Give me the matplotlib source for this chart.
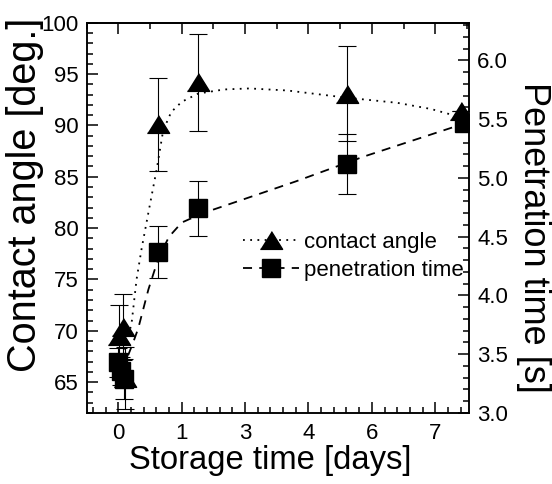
import matplotlib
matplotlib.use("Agg")
import matplotlib.pyplot as plt
from matplotlib.ticker import MultipleLocator, FixedLocator, FixedFormatter
from matplotlib.lines import Line2D
import numpy as np

plt.rcParams['font.family'] = ['Liberation Sans', 'DejaVu Sans']

# ---- data ----
ca_days = [0.01, 0.11, 0.16, 0.94, 1.89, 5.41, 8.10]
ca_values = [69.5, 70.4, 65.4, 90.1, 94.2, 93.1, 91.4]
ca_errors = [3.0, 3.2, 3.0, 4.5, 4.7, 4.6, 0.0]

pt_days = [0.00, 0.06, 0.14, 0.94, 1.89, 5.41, 8.18]
pt_values = [3.43, 3.36, 3.29, 4.37, 4.74, 5.12, 5.47]
pt_errors = [0.12, 0.12, 0.17, 0.22, 0.235, 0.255, 0.0]

# fitted guide curves
ca_fit_days = [0.10, 0.23, 0.32, 0.43, 0.55, 0.71, 0.91, 1.06, 1.25, 1.5, 1.89,
               2.5, 3.1, 4.0, 4.8, 5.4, 6.6, 7.4, 8.1]
ca_fit_values = [67.5, 69.2, 71.0, 75.0, 78.0, 81.5, 85.8, 89.5, 91.3, 92.3, 93.1,
                 93.5, 93.6, 93.4, 93.0, 92.7, 92.2, 91.6, 90.8]
pt_fit_days = [0.10, 0.23, 0.35, 0.47, 0.71, 0.95, 1.2, 1.5, 2.0, 2.9, 4.2, 5.8, 8.17]
pt_fit_values = [3.36, 3.49, 3.60, 3.72, 4.05, 4.32, 4.50, 4.62, 4.70, 4.81, 4.97,
                 5.18, 5.46]

x_ticks = [0, 1.5, 3, 4.5, 6, 7.5]
x_tick_labels = ['0', '1', '3', '4', '6', '7']
left_ticks = [65, 70, 75, 80, 85, 90, 95, 100]
right_ticks = [3.0, 3.5, 4.0, 4.5, 5.0, 5.5, 6.0]

# ---- figure ----
W, H = 552, 484
L, R, T, B = 86.7, 469.0, 22.7, 413.0
fig = plt.figure(figsize=(W / 100, H / 100), dpi=100)
ax = fig.add_axes([L / W, 1 - B / H, (R - L) / W, (B - T) / H])
ax2 = ax.twinx()


def ax_x(px):
    return (px - L) / (R - L)


def ax_y(py):
    return (B - py) / (B - T)


tri = [(-1.25, -1.0), (1.25, -1.0), (0.0, 1.0)]
lw_axis = 1.1
dot_style = (0, (1, 3))
dash_style = (0, (5, 4))

# contact angle
ax.plot(ca_fit_days, ca_fit_values, linestyle=dot_style, color='black', lw=1.3)
ax.errorbar(ca_days, ca_values, yerr=ca_errors, fmt='none', ecolor='black',
            elinewidth=0.8, capsize=6.5, capthick=0.8)
ax.plot(ca_days, ca_values, linestyle='none', marker=tri, ms=16, color='black')

# penetration time
ax2.plot(pt_fit_days, pt_fit_values, linestyle=dash_style, color='black', lw=1.3)
ax2.errorbar(pt_days, pt_values, yerr=pt_errors, fmt='none', ecolor='black',
             elinewidth=0.8, capsize=6.5, capthick=0.8)
ax2.plot(pt_days, pt_values, linestyle='none', marker='s', ms=13, color='black')

ax.set_xlim(-0.75, 8.3)
ax.set_ylim(62, 100)
ax2.set_ylim(3.0, 6.32)

ax.xaxis.set_major_locator(FixedLocator(x_ticks))
ax.xaxis.set_major_formatter(FixedFormatter(x_tick_labels))
ax.xaxis.set_minor_locator(MultipleLocator(0.3))
ax.yaxis.set_major_locator(FixedLocator(left_ticks))
ax.yaxis.set_minor_locator(MultipleLocator(1))
ax2.yaxis.set_major_locator(FixedLocator(right_ticks))
ax2.yaxis.set_major_formatter(plt.FuncFormatter(lambda v, p: f"{v:.1f}"))
ax2.yaxis.set_minor_locator(MultipleLocator(0.1))

ax.tick_params(axis='both', which='both', direction='in', width=lw_axis,
               labelsize=16, top=False, right=False)
ax.tick_params(axis='both', which='major', length=8)
ax.tick_params(axis='both', which='minor', length=4.5)
ax.tick_params(axis='x', pad=7)
ax.tick_params(axis='y', pad=6)
ax2.tick_params(axis='y', which='both', direction='in', width=lw_axis, labelsize=16, pad=6)
ax2.tick_params(axis='y', which='major', length=8)
ax2.tick_params(axis='y', which='minor', length=4.5)

secx = ax.secondary_xaxis('top')
secx.xaxis.set_major_locator(FixedLocator(x_ticks))
secx.xaxis.set_minor_locator(MultipleLocator(0.75))
secx.tick_params(axis='x', which='both', direction='in', width=lw_axis, labeltop=False)
secx.tick_params(axis='x', which='major', length=8)
secx.tick_params(axis='x', which='minor', length=4.5)

for a in (ax, ax2):
    for s in a.spines.values():
        s.set_linewidth(lw_axis)
secx.spines['top'].set_linewidth(lw_axis)

ax.set_xlabel('Storage time [days]', fontsize=23.6)
ax.xaxis.set_label_coords(ax_x(270), ax_y(461))
ax.xaxis.label.set_verticalalignment('center')

ax.set_ylabel('Contact angle [deg.]', fontsize=28.5)
ax.yaxis.set_label_coords(ax_x(25), ax_y(195))
ax.yaxis.label.set_verticalalignment('center')

ax2.set_ylabel('Penetration time [s]', fontsize=26, rotation=270)
ax2.yaxis.set_label_coords(ax_x(533), ax_y(237.5))
ax2.yaxis.label.set_verticalalignment('center')

handles = [
    Line2D([], [], linestyle=dot_style, color='black', lw=1.3, marker=tri, ms=16),
    Line2D([], [], linestyle=dash_style, color='black', lw=1.3, marker='s', ms=13),
]
ax2.legend(handles, ['contact angle', 'penetration time'], loc='upper left',
           bbox_to_anchor=(243 / W, 1 - 232 / H), bbox_transform=fig.transFigure,
           frameon=False, fontsize=16, numpoints=1, handlelength=2.5,
           handletextpad=0.25, labelspacing=0.3, borderpad=0, borderaxespad=0)

fig.savefig('out.png', dpi=100)
